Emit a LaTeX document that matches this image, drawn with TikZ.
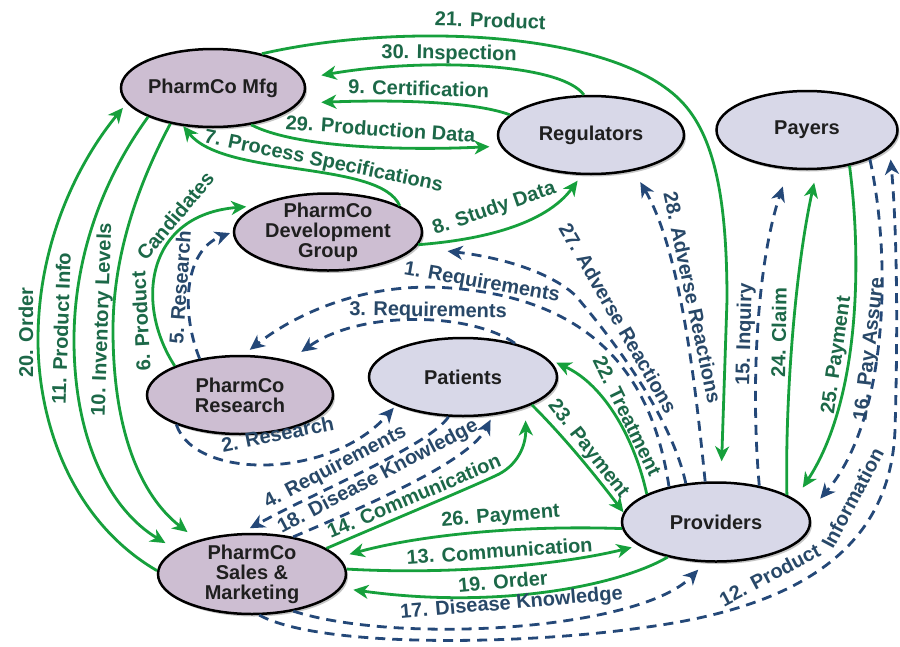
\documentclass[tikz,border=0pt]{standalone}
\usepackage{fontspec}
\setmainfont{Liberation Sans}
\usetikzlibrary{shapes.geometric,arrows.meta,shadows}
\definecolor{gline}{RGB}{22,160,60}
\definecolor{gtext}{RGB}{28,104,72}
\definecolor{bline}{RGB}{36,72,120}
\definecolor{btext}{RGB}{40,72,104}
\definecolor{mauve}{RGB}{205,190,210}
\definecolor{lav}{RGB}{216,216,232}
\newcommand\lblfont{\fontsize{20}{24}\selectfont\bfseries}
\begin{document}
\begin{tikzpicture}[x=1pt,y=-1pt,
  ell/.style={ellipse, draw=black, line width=2.5pt, inner xsep=0pt, inner ysep=-10pt, align=center,
    font=\fontsize{20}{20}\selectfont\bfseries, text=black!88,
    drop shadow={shadow xshift=2pt,shadow yshift=-2.5pt,fill=black!45,opacity=0.5}},
  pharm/.style={ell, fill=mauve},
  ext/.style={ell, fill=lav},
  garr/.style={draw=gline, line width=2.8pt, -{Stealth[length=15pt,width=14pt,inset=4.5pt]}},
  barr/.style={draw=bline, line width=2.8pt, dash pattern=on 10pt off 7pt, -{Stealth[length=15pt,width=14pt,inset=4.5pt]}},
  glab/.style={font=\lblfont, text=gtext, inner sep=0pt, anchor=base},
  blab/.style={font=\lblfont, text=btext, inner sep=0pt, anchor=base},
]
\useasboundingbox (0,0) rectangle (900,646);
\fill[white] (0,0) rectangle (900,646);

% nodes
\node[pharm, minimum width=184pt, minimum height=78pt] (mfg) at (213,88) {PharmCo Mfg};
\node[ext, minimum width=186pt, minimum height=78pt] (reg) at (591,135) {Regulators};
\node[ext, minimum width=181pt, minimum height=78pt] (pay) at (807,130) {Payers};
\node[pharm, minimum width=188pt, minimum height=77pt] (dev) at (328,232) {PharmCo\\Development\\Group};
\node[pharm, minimum width=186pt, minimum height=78pt] (res) at (240,395) {PharmCo\\Research};
\node[ext, minimum width=188pt, minimum height=78pt] (pat) at (463,377) {Patients};
\node[ext, minimum width=188pt, minimum height=79pt] (prov) at (716,522) {Providers};
\node[pharm, minimum width=188pt, minimum height=80pt] (sal) at (252,574) {PharmCo\\Sales \&\\Marketing};

% green connectors
\draw[garr, shorten >=20pt] (mfg.35) .. controls (400,22) and (610,30) .. (680,100) .. controls (715,135) and (727,200) .. (727,300) -- (prov.83);
\draw[garr, shorten >=18pt] (reg.100) .. controls (560,62) and (420,58) .. (mfg.6);
\draw[garr, shorten >=22pt] (reg.166) .. controls (470,100) and (380,100) .. (mfg.-10);
\draw[garr, shorten >=11pt] (mfg.-44) .. controls (300,150) and (420,150) .. (reg.187);
\draw[garr] (dev.20) .. controls (380,160) and (225,178) .. (mfg.232);
\draw[garr, shorten >=7pt] (dev.-8) .. controls (480,240) and (545,225) .. (reg.-103);
\draw[garr, shorten >=10pt] (res.156) .. controls (135,305) and (145,215) .. (dev.160);
\draw[garr, shorten >=6pt] (sal.178) .. controls (70,520) and (38,420) .. (38,340) .. controls (38,240) and (80,160) .. (mfg.190);
\draw[garr, shorten >=12pt] (mfg.204) .. controls (95,190) and (74,270) .. (74,340) .. controls (74,440) and (110,510) .. (sal.162);
\draw[garr, shorten >=13pt] (mfg.220) .. controls (135,190) and (113,260) .. (113,330) .. controls (113,430) and (140,495) .. (sal.148);
\draw[garr, shorten >=9pt] (prov.158) .. controls (635,440) and (605,385) .. (pat.12);
\draw[garr] (pat.-22) .. controls (565,438) and (595,475) .. (prov.174);
\draw[garr, shorten >=13pt] (sal.19) .. controls (390,521) and (460,492) .. (495,476) .. controls (518,466) and (526,445) .. (pat.-26);
\draw[garr, shorten >=11pt] (prov.184) .. controls (520,525) and (420,535) .. (sal.11);
\draw[garr, shorten >=7pt] (sal.3) .. controls (450,575) and (560,565) .. (prov.197);
\draw[garr, shorten >=12pt] (prov.216) .. controls (620,585) and (500,610) .. (sal.-9);
\draw[garr, shorten >=13pt] (prov.21) .. controls (785,400) and (795,270) .. (pay.-76);
\draw[garr, shorten >=14pt] (pay.-40) .. controls (862,260) and (860,400) .. (prov.16);

% blue dashed connectors
\draw[barr, shorten >=3pt] (res.138) .. controls (180,310) and (185,250) .. (dev.180);
\draw[barr, shorten >=18pt] (pay.-25) .. controls (892,260) and (888,420) .. (prov.6);
\draw[barr, shorten >=18pt] (prov.40) .. controls (750,380) and (758,260) .. (pay.-115);
\draw[barr, shorten >=13pt] (prov.105) .. controls (695,380) and (680,250) .. (reg.-40);
\draw[barr, shorten >=32pt] (prov.128) .. controls (672,420) and (618,345) .. (575,295) .. controls (545,268) and (490,256) .. (dev.-10);
\draw[barr, shorten >=8pt] (prov.143) .. controls (655,395) and (610,300) .. (450,288) .. controls (360,281) and (290,318) .. (res.85);
\draw[barr, shorten >=15pt] (pat.33) .. controls (470,312) and (360,310) .. (res.35);
\draw[barr, shorten >=3pt] (res.205) .. controls (195,480) and (330,480) .. (pat.203);
\draw[barr, shorten >=10pt] (pat.250) .. controls (430,445) and (320,490) .. (sal.105);
\draw[barr, shorten >=5pt] (sal.42) .. controls (380,500) and (470,460) .. (pat.-52);
\draw[barr, shorten >=10pt] (sal.-42) .. controls (400,645) and (640,630) .. (prov.-105);
\draw[barr, shorten >=12pt] (sal.-80) .. controls (320,648) and (520,645) .. (640,628) .. controls (780,610) and (890,560) .. (895,430) .. controls (898,330) and (897,230) .. (pay.-12);

% green labels
\node[glab, rotate=-2] (l21) at (490,27.5) {21. Product};
\node[glab, rotate=-1] (l30) at (449,59.3) {30. Inspection};
\node[glab, rotate=-1.5] (l9) at (418.5,95.5) {9. Certification};
\node[glab, rotate=-4] (l29) at (380,136) {29. Production Data};
\node[glab, rotate=-11.6] (l7) at (322.5,167) {7. Process Specifications};
\node[glab, rotate=19] (l8) at (496,214) {8. Study Data};
\node[glab, rotate=93] (l6a) at (148,321) {6. Product};
\node[glab, rotate=50] (l6b) at (180.7,220.6) {Candidates};
\node[glab, rotate=90] (l20) at (33,332.5) {20. Order};
\node[glab, rotate=88] (l11) at (68.25,328.75) {11. Product Info};
\node[glab, rotate=88] (l10) at (108,319.75) {10. Inventory Levels};
\node[glab, rotate=-64] (l22) at (621,419) {22. Treatment};
\node[glab, rotate=-52] (l23) at (584,452) {23. Payment};
\node[glab, rotate=23] (l14) at (416.7,502.5) {14. Communication};
\node[glab, rotate=4.4] (l26) at (501,522) {26. Payment};
\node[glab, rotate=4] (l13) at (500,558) {13. Communication};
\node[glab, rotate=5] (l19) at (503.5,588.5) {19. Order};
\node[glab, rotate=89] (l24) at (786,333) {24. Claim};
\node[glab, rotate=82] (l25) at (842,356) {25. Payment};

% blue labels
\node[blab, rotate=86] (l5) at (187,288) {5. Research};
\node[blab, rotate=83.2] (l16) at (875,350) {16. Pay Assure};
\node[blab, rotate=88.5] (l15) at (750.5,334.5) {15. Inquiry};
\node[blab, rotate=-78] (l28) at (685.7,299) {28. Adverse Reactions};
\node[blab, rotate=-60] (l27) at (612,321.7) {27. Adverse Reactions};
\node[blab, rotate=-10] (l1) at (481,288) {1. Requirements};
\node[blab, rotate=-1] (l3) at (428,316.5) {3. Requirements};
\node[blab, rotate=11.4] (l2) at (279,441) {2. Research};
\node[blab, rotate=27.6] (l4) at (337.8,472) {4. Requirements};
\node[blab, rotate=27.8] (l18) at (380.5,481.5) {18. Disease Knowledge};
\node[blab, rotate=5] (l17) at (512,609) {17. Disease Knowledge};
\node[blab, rotate=28] (l12a) at (773,581.2) {12. Product};
\node[blab, rotate=62] (l12b) at (858.7,501.4) {Information};
\end{tikzpicture}
\end{document}
